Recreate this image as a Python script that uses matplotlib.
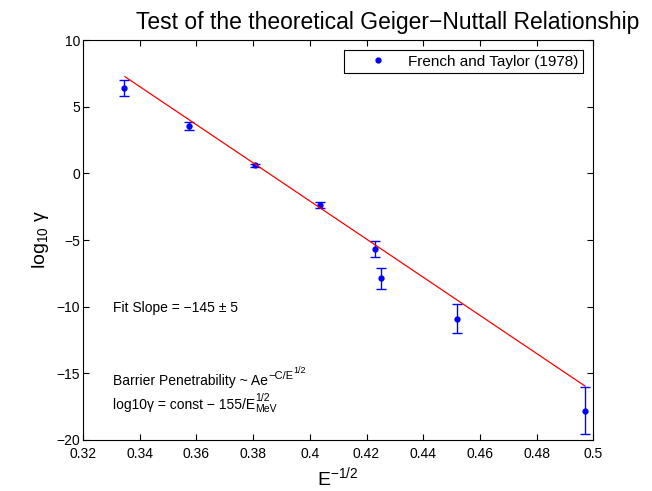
import matplotlib
matplotlib.use('Agg')
import matplotlib.pyplot as plt

plt.rcParams['font.family'] = ['Liberation Sans', 'DejaVu Sans']
plt.rcParams['mathtext.fontset'] = 'custom'
plt.rcParams['mathtext.rm'] = 'Liberation Sans'
plt.rcParams['mathtext.it'] = 'Liberation Sans'

# French and Taylor (1978) data
e_inv_sqrt = [0.3346, 0.3575, 0.3807, 0.4036, 0.4229, 0.4251, 0.4520, 0.4971]
log_gamma = [6.38, 3.55, 0.60, -2.38, -5.68, -7.88, -10.90, -17.80]
log_gamma_err = [0.60, 0.33, 0.10, 0.25, 0.58, 0.80, 1.07, 1.76]

# fitted line endpoints
fit_x = [0.3348, 0.4971]
fit_y = [7.25, -15.96]

fig = plt.figure(figsize=(6.52, 4.91), dpi=100)
ax = fig.add_axes([0.1273, 0.1039, 0.7827, 0.8146])

ax.errorbar(e_inv_sqrt, log_gamma, yerr=log_gamma_err, fmt='none', ecolor='blue',
            capsize=3.6, elinewidth=1, capthick=1)
ax.plot(e_inv_sqrt, log_gamma, '.', color='blue', markersize=7,
        label='French and Taylor (1978)')
ax.plot(fit_x, fit_y, color='red', linewidth=0.9)

ax.set_xlim(0.32, 0.5)
ax.set_ylim(-20, 10)
ax.set_xticks([0.32, 0.34, 0.36, 0.38, 0.4, 0.42, 0.44, 0.46, 0.48, 0.5])
ax.set_xticklabels(['0.32', '0.34', '0.36', '0.38', '0.4', '0.42', '0.44',
                    '0.46', '0.48', '0.5'])
ax.set_yticks([-20, -15, -10, -5, 0, 5, 10])
ax.set_yticklabels(['\u221220', '\u221215', '\u221210', '\u22125', '0', '5', '10'])
ax.tick_params(direction='in', top=True, right=True, labelsize=10, length=4)
ax.tick_params(axis='x', pad=5)
ax.tick_params(axis='y', pad=2)

ax.set_title('Test of the theoretical Geiger\u2212Nuttall Relationship',
             fontsize=16.5, x=0.598, pad=8)
ax.set_xlabel('E$^{\u22121/2}$', fontsize=14, labelpad=3)
ax.set_ylabel('log$_{10}$ \u03b3', fontsize=14)

ax.text(0.3305, -10.1, 'Fit Slope = \u2212145 \u00b1 5', fontsize=10, va='center')

# Barrier Penetrability ~ Ae^{-C/E^{1/2}}, superscripts built by hand
t1 = ax.text(0.3305, -15.85, 'Barrier Penetrability ~ Ae', fontsize=10,
             va='baseline')
s1 = ax.annotate('\u2212C/E', xy=(1, 0), xycoords=t1, xytext=(0.3, 6.5),
                 textcoords='offset points', fontsize=8, va='baseline')
ax.annotate('1/2', xy=(1, 0), xycoords=s1, xytext=(0.3, 5.5),
            textcoords='offset points', fontsize=6.5, va='baseline')

# log10γ = const − 155/E_MeV^{1/2}
t2 = ax.text(0.3305, -17.65, 'log10\u03b3 = const \u2212 155/E', fontsize=10,
             va='baseline')
ax.annotate('1/2', xy=(1, 0), xycoords=t2, xytext=(0.5, 7.5),
            textcoords='offset points', fontsize=7.5, va='baseline')
ax.annotate('MeV', xy=(1, 0), xycoords=t2, xytext=(0.5, -0.5),
            textcoords='offset points', fontsize=7.5, va='baseline')

leg = ax.legend(loc='upper right', fontsize=11, fancybox=False, framealpha=1,
                edgecolor='black', handlelength=3.8, handletextpad=0.1,
                borderpad=0.3, borderaxespad=0.65)
leg.get_frame().set_linewidth(0.8)

fig.savefig('out.png', dpi=100)
